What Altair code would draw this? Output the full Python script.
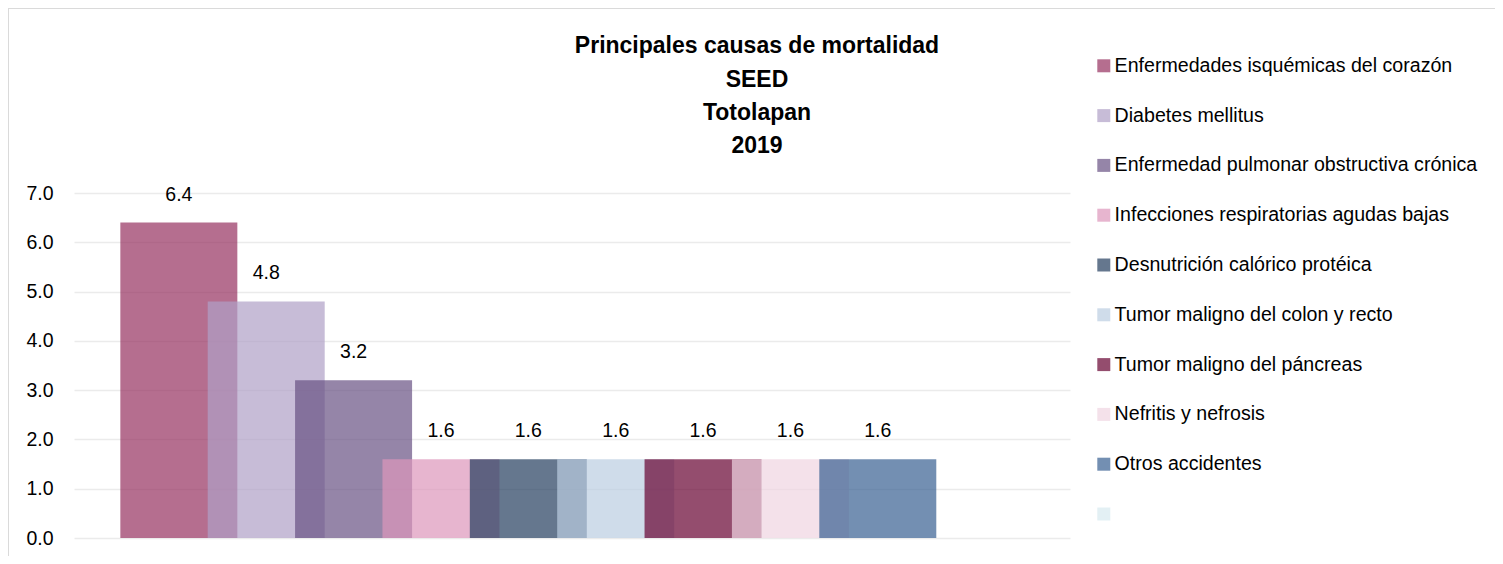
import altair as alt
import pandas as pd

causes = [
    "Enfermedades isquémicas del corazón",
    "Diabetes mellitus",
    "Enfermedad pulmonar obstructiva crónica",
    "Infecciones respiratorias agudas bajas",
    "Desnutrición calórico protéica",
    "Tumor maligno del colon y recto",
    "Tumor maligno del páncreas",
    "Nefritis y nefrosis",
    "Otros accidentes",
    "",
]
rates = [6.4, 4.8, 3.2, 1.6, 1.6, 1.6, 1.6, 1.6, 1.6, None]
colors = ["#95305F", "#AF9FC6", "#685183", "#DD95BA", "#243D5E",
          "#BACDE1", "#660131", "#EFD4E1", "#386091", "#D7EAEF"]
title_lines = ["Principales causas de mortalidad", "SEED", "Totolapan", "2019"]

df = pd.DataFrame({"causa": causes, "tasa": rates, "orden": list(range(len(causes)))})

FONT = "Liberation Sans, Arial, sans-serif"

xscale = alt.Scale(domain=[-1.2, 10.2], nice=False, zero=False, padding=0)
yscale = alt.Scale(domain=[0, 7], nice=False)

bars = alt.Chart(df).mark_bar(width=117, opacity=0.7).encode(
    x=alt.X("orden:Q", scale=xscale, axis=None),
    y=alt.Y("tasa:Q", scale=yscale,
            axis=alt.Axis(title=None, values=[0, 1, 2, 3, 4, 5, 6, 7], format=".1f",
                          domain=False, ticks=False, labelPadding=21,
                          labelFontSize=19.5, labelFont=FONT, labelColor="#000000",
                          gridColor="#ebebeb", gridWidth=1.5)),
    color=alt.Color("causa:N", sort=causes,
                    scale=alt.Scale(domain=causes, range=colors),
                    legend=alt.Legend(title=None, orient="none", legendX=1020, legendY=-137,
                                      symbolType="square", symbolSize=169, symbolStrokeWidth=0,
                                      symbolOpacity=0.7,
                                      labelFontSize=19.6, labelFont=FONT, labelColor="#000000",
                                      labelOffset=1, rowPadding=28.8, padding=0,
                                      labelLimit=500)),
    order=alt.Order("orden:Q"),
)

labels = alt.Chart(df).transform_filter("datum.tasa > 0").mark_text(
    dy=-22, baseline="alphabetic", fontSize=19.5, font=FONT, color="#000000"
).encode(
    x=alt.X("orden:Q", scale=xscale),
    y=alt.Y("tasa:Q", scale=yscale),
    text=alt.Text("tasa:Q", format=".1f"),
)

frame_top = alt.Chart(df).mark_rule(color="#dadada", strokeWidth=2).encode(
    x=alt.value(-67), x2=alt.value(1421), y=alt.value(-185))
frame_left = alt.Chart(df).mark_rule(color="#dadada", strokeWidth=2).encode(
    x=alt.value(-66), y=alt.value(-186), y2=alt.value(363))

chart = alt.layer(frame_top, frame_left, bars, labels).properties(
    width=996, height=345,
    autosize=alt.AutoSizeParams(type="none"),
    padding={"left": 66, "top": 185, "right": 425, "bottom": 18},
    title=alt.TitleParams(text=title_lines, anchor="middle", dx=185, dy=190, offset=38,
                          fontSize=23, font=FONT, fontWeight="bold",
                          lineHeight=33.2, color="#000000"),
).configure_view(stroke=None)

chart.save("out.html", embed_options={"renderer": "svg", "actions": False})
